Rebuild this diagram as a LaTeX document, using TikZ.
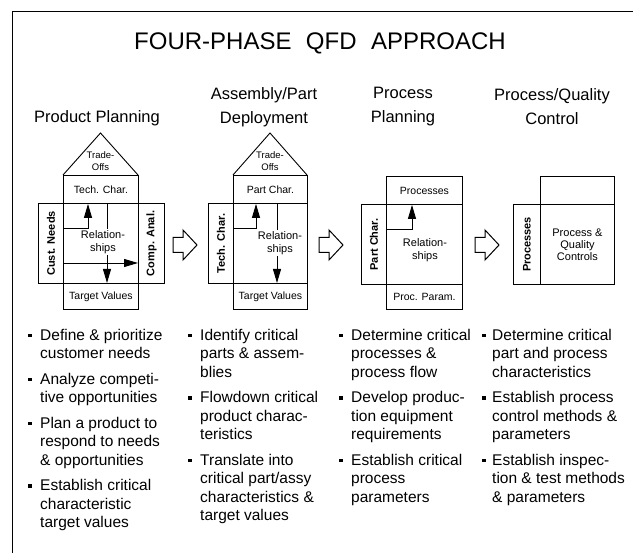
\documentclass[tikz,border=0pt]{standalone}
\usepackage{fontspec}
\setmainfont{Liberation Sans}
\usepackage{graphicx}
\usetikzlibrary{arrows.meta}
\newcommand{\mylines}[1]{\begin{tabular}[t]{@{}l@{}}#1\end{tabular}}
\begin{document}
\begin{tikzpicture}[x=1pt,y=-1pt,
  frame/.style={line width=1pt},
  box/.style={draw, line width=0.9pt, rectangle, inner sep=0pt, anchor=north west, font=\fontsize{10.5}{12}\selectfont},
  sidebox/.style={box, font=\bfseries\fontsize{11}{13}\selectfont},
  small/.style={inner sep=0pt, align=center, font=\fontsize{9.5}{12.5}\selectfont},
  rel/.style={inner sep=1pt, align=center, font=\fontsize{11}{13}\selectfont},
  head/.style={inner sep=0pt, align=center, font=\fontsize{16.5}{24}\selectfont},
  item/.style={anchor=base west, inner sep=0pt, font=\fontsize{15.5}{18.5}\selectfont},
  bul/.style={fill, inner sep=0pt, minimum size=3.5pt},
  conn/.style={line width=0.9pt},
  tip/.style={-{Triangle[length=14pt,width=8pt]}},
  hollow/.pic={\draw[line width=1pt] (0,-7.5) -- (10,-7.5) -- (10,-15) -- (24,0) -- (10,15) -- (10,7.5) -- (0,7.5) -- cycle;}
]
\useasboundingbox (0,0) rectangle (633,553);
\fill[white] (0,0) rectangle (633,553);
\draw[frame] (12,553) -- (12,12) -- (633,12);

\node[inner sep=0pt, font=\fontsize{24}{28}\selectfont] (title) at (320,43) {FOUR-PHASE\hspace{0.6em}QFD\hspace{0.6em}APPROACH};

% headings
\node[head] (h1) at (97,118) {Product Planning};
\node[head] (h2) at (264,107) {Assembly/Part\\Deployment};
\node[head] (h3) at (403,107) {Process\\Planning};
\node[head] (h4) at (552,107) {Process/Quality\\Control};

% House 1
\draw[conn] (63,175) -- (100.5,133) -- (138,175);
\node[small] (to1) at (100.5,161) {Trade-\\Offs};
\node[box, minimum width=75pt, minimum height=28pt] (tc1) at (63,175) {Tech. Char.};
\node[box, minimum width=75pt, minimum height=80pt] (rel1) at (63,203) {};
\node[box, minimum width=75pt, minimum height=26pt] (tv1) at (63,283) {Target Values};
\node[sidebox, minimum width=25pt, minimum height=80pt] (cn1) at (38,203) {\rotatebox{90}{Cust. Needs}};
\node[sidebox, minimum width=26pt, minimum height=80pt] (ca1) at (138,203) {\rotatebox{90}{Comp. Anal.}};
\coordinate (p1a) at (63,228); \coordinate (p1b) at (88,228);
\draw[conn,tip] (p1a) -- (p1b) -- (p1b |- tc1.south);
\coordinate (p1c) at (63,263);
\draw[conn,tip] (p1c) -- (p1c -| ca1.west);
\coordinate (p1d) at (107,203); \coordinate (p1e) at (107,263);
\draw[conn] (p1d) -- (p1e);
\draw[conn,tip] (p1e) -- (p1e |- tv1.north);
\node[rel, fill=white] (r1) at (103,242) {Relation-\\ships};

% House 2
\draw[conn] (233,175) -- (270,133) -- (307,175);
\node[small] (to2) at (270,161) {Trade-\\Offs};
\node[box, minimum width=74pt, minimum height=28pt] (pc2) at (233,175) {Part Char.};
\node[box, minimum width=74pt, minimum height=80pt] (rel2) at (233,203) {};
\node[box, minimum width=74pt, minimum height=26pt] (tv2) at (233,283) {Target Values};
\node[sidebox, minimum width=25pt, minimum height=80pt] (tch2) at (208,203) {\rotatebox{90}{Tech. Char.}};
\coordinate (p2a) at (233,228); \coordinate (p2b) at (256,228);
\draw[conn,tip] (p2a) -- (p2b) -- (p2b |- pc2.south);
\coordinate (p2d) at (277,203);
\draw[conn,tip] (p2d) -- (p2d |- tv2.north);
\node[rel, fill=white] (r2) at (280,243) {Relation-\\ships};

% House 3
\node[box, minimum width=76pt, minimum height=28pt] (proc3) at (386,176) {Processes};
\node[box, minimum width=76pt, minimum height=80pt] (rel3) at (386,204) {};
\node[box, minimum width=76pt, minimum height=25pt] (pp3) at (386,284) {Proc. Param.};
\node[sidebox, minimum width=25pt, minimum height=80pt] (pc3) at (361,204) {\rotatebox{90}{Part Char.}};
\coordinate (p3a) at (386,229); \coordinate (p3b) at (412,229);
\draw[conn,tip] (p3a) -- (p3b) -- (p3b |- proc3.south);
\node[rel] (r3) at (425,250) {Relation-\\ships};

% House 4
\node[box, minimum width=74pt, minimum height=28pt] (top4) at (540,176) {};
\node[box, minimum width=74pt, minimum height=80pt, align=center, font=\fontsize{11}{12}\selectfont] (pq4) at (540,204) {Process \&\\Quality\\Controls};
\node[sidebox, minimum width=27pt, minimum height=80pt] (pr4) at (513,204) {\rotatebox{90}{Processes}};

% hollow arrows
\pic at (173,245) {hollow};
\pic at (319,245) {hollow};
\pic at (475,245) {hollow};

% Column 1
\node[item] (c1a) at (40,340.5) {\mylines{Define \& prioritize\\customer needs}};
\node[item] (c1b) at (40,384.5) {\mylines{Analyze competi-\\tive opportunities}};
\node[item] (c1c) at (40,428.5) {\mylines{Plan a product to\\respond to needs\\\& opportunities}};
\node[item] (c1d) at (40,491) {\mylines{Establish critical\\characteristic\\target values}};
\node[bul] (b1a) at (30,335.5) {};
\node[bul] (b1b) at (30,379.5) {};
\node[bul] (b1c) at (30,423.5) {};
\node[bul] (b1d) at (30,486) {};

% Column 2
\node[item] (c2a) at (200,340.5) {\mylines{Identify critical\\parts \& assem-\\blies}};
\node[item] (c2b) at (200,403) {\mylines{Flowdown critical\\product charac-\\teristics}};
\node[item] (c2c) at (200,465.5) {\mylines{Translate into\\critical part/assy\\characteristics \&\\target values}};
\node[bul] (b2a) at (190,335.5) {};
\node[bul] (b2b) at (190,398) {};
\node[bul] (b2c) at (190,460.5) {};

% Column 3
\node[item] (c3a) at (351,340.5) {\mylines{Determine critical\\processes \&\\process flow}};
\node[item] (c3b) at (351,403) {\mylines{Develop produc-\\tion equipment\\requirements}};
\node[item] (c3c) at (351,465.5) {\mylines{Establish critical\\process\\parameters}};
\node[bul] (b3a) at (341,335.5) {};
\node[bul] (b3b) at (341,398) {};
\node[bul] (b3c) at (341,460.5) {};

% Column 4
\node[item] (c4a) at (492,340.5) {\mylines{Determine critical\\part and process\\characteristics}};
\node[item] (c4b) at (492,403) {\mylines{Establish process\\control methods \&\\parameters}};
\node[item] (c4c) at (492,465.5) {\mylines{Establish inspec-\\tion \& test methods\\\& parameters}};
\node[bul] (b4a) at (484,335.5) {};
\node[bul] (b4b) at (484,398) {};
\node[bul] (b4c) at (484,460.5) {};
\end{tikzpicture}
\end{document}
